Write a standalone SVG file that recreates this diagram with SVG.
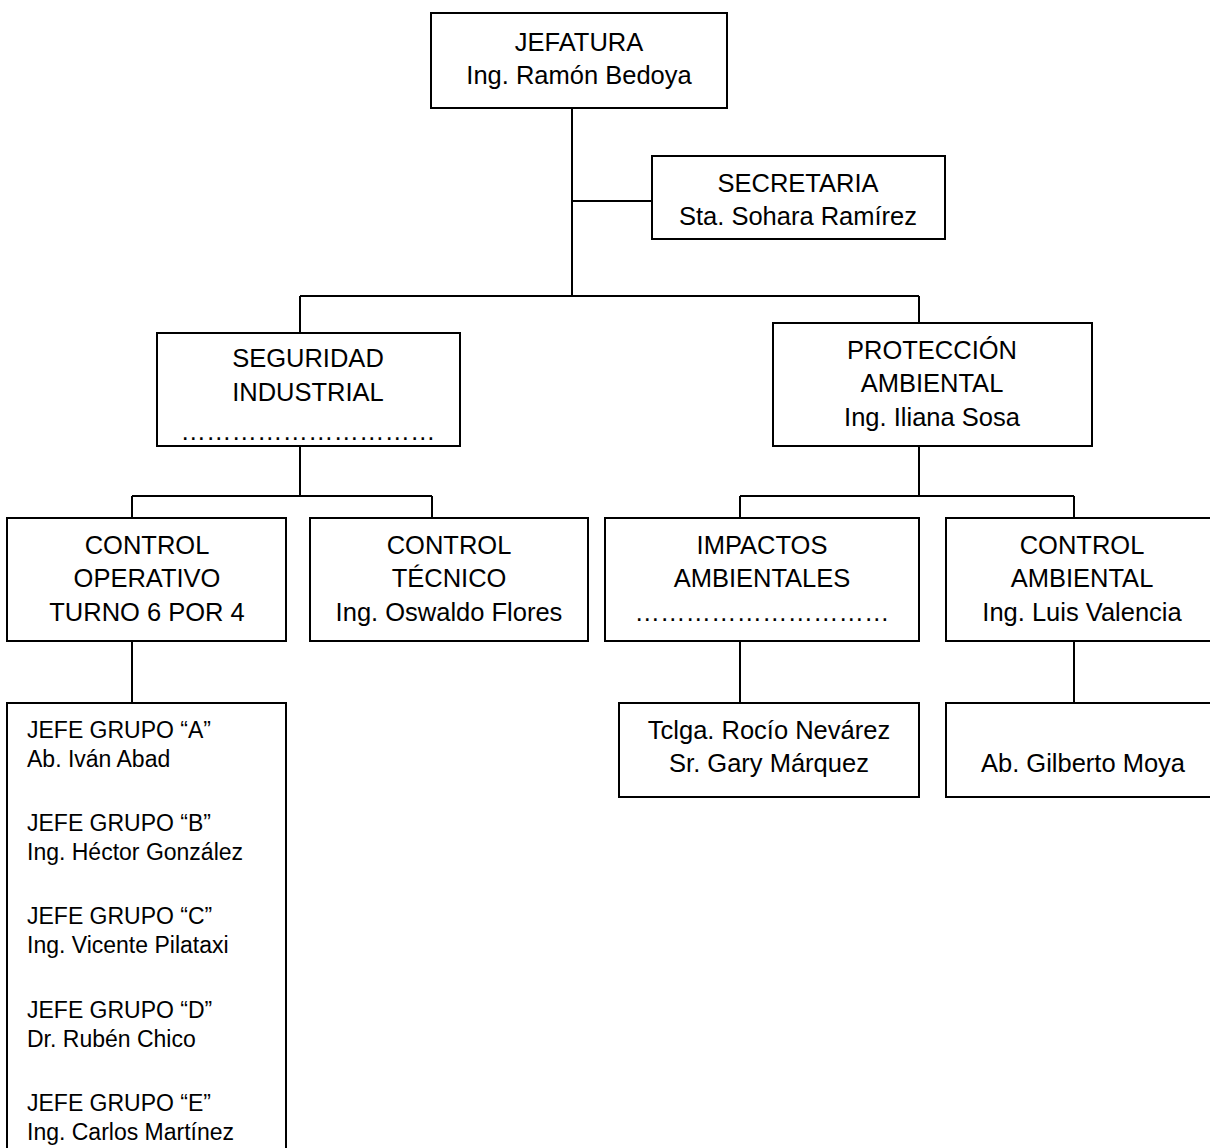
<svg xmlns="http://www.w3.org/2000/svg" width="1210" height="1148" viewBox="0 0 1210 1148">
<style>
.box{fill:#fff;stroke:#000;stroke-width:2}
.ln{stroke:#000;stroke-width:2;fill:none}
text{font-family:"Liberation Sans",Arial,sans-serif;font-size:25.5px;fill:#000}
.c{text-anchor:middle}
.s{font-size:23px}
</style>
<rect width="1210" height="1148" fill="#fff"/>
<g id="connectors">
<path class="ln" d="M572 108V296M572 201H652M300 296H919M300 296V333M919 296V323"/>
<path class="ln" d="M300 446V496M132 496H432M132 496V518M432 496V518"/>
<path class="ln" d="M919 446V496M740 496H1074M740 496V518M1074 496V518"/>
<path class="ln" d="M132 641V703M740 641V703M1074 641V703"/>
</g>
<g id="jefatura">
<rect class="box" x="431" y="13" width="296" height="95"/>
<text class="c" x="579" y="51">JEFATURA</text>
<text class="c" x="579" y="84">Ing. Ramón Bedoya</text>
</g>
<g id="secretaria">
<rect class="box" x="652" y="156" width="293" height="83"/>
<text class="c" x="798" y="192">SECRETARIA</text>
<text class="c" x="798" y="225">Sta. Sohara Ramírez</text>
</g>
<g id="seguridad">
<rect class="box" x="157" y="333" width="303" height="113"/>
<text class="c" x="308" y="367">SEGURIDAD</text>
<text class="c" x="308" y="401">INDUSTRIAL</text>
<text class="c" x="308" y="440">…………………………</text>
</g>
<g id="proteccion">
<rect class="box" x="773" y="323" width="319" height="123"/>
<text class="c" x="932" y="359">PROTECCIÓN</text>
<text class="c" x="932" y="392">AMBIENTAL</text>
<text class="c" x="932" y="426">Ing. Iliana Sosa</text>
</g>
<g id="control-operativo">
<rect class="box" x="7" y="518" width="279" height="123"/>
<text class="c" x="147" y="554">CONTROL</text>
<text class="c" x="147" y="587">OPERATIVO</text>
<text class="c" x="147" y="621">TURNO 6 POR 4</text>
</g>
<g id="control-tecnico">
<rect class="box" x="310" y="518" width="278" height="123"/>
<text class="c" x="449" y="554">CONTROL</text>
<text class="c" x="449" y="587">TÉCNICO</text>
<text class="c" x="449" y="621">Ing. Oswaldo Flores</text>
</g>
<g id="impactos">
<rect class="box" x="605" y="518" width="314" height="123"/>
<text class="c" x="762" y="554">IMPACTOS</text>
<text class="c" x="762" y="587">AMBIENTALES</text>
<text class="c" x="762" y="621">…………………………</text>
</g>
<g id="control-ambiental">
<rect class="box" x="946" y="518" width="270" height="123"/>
<text class="c" x="1082" y="554">CONTROL</text>
<text class="c" x="1082" y="587">AMBIENTAL</text>
<text class="c" x="1082" y="621">Ing. Luis Valencia</text>
</g>
<g id="jefes-grupo">
<rect class="box" x="7" y="703" width="279" height="460"/>
<text class="s" x="27" y="738">JEFE GRUPO “A”</text>
<text class="s" x="27" y="767">Ab. Iván Abad</text>
<text class="s" x="27" y="831">JEFE GRUPO “B”</text>
<text class="s" x="27" y="860">Ing. Héctor González</text>
<text class="s" x="27" y="924">JEFE GRUPO “C”</text>
<text class="s" x="27" y="953">Ing. Vicente Pilataxi</text>
<text class="s" x="27" y="1018">JEFE GRUPO “D”</text>
<text class="s" x="27" y="1047">Dr. Rubén Chico</text>
<text class="s" x="27" y="1111">JEFE GRUPO “E”</text>
<text class="s" x="27" y="1140">Ing. Carlos Martínez</text>
</g>
<g id="impactos-personal">
<rect class="box" x="619" y="703" width="300" height="94"/>
<text class="c" x="769" y="739">Tclga. Rocío Nevárez</text>
<text class="c" x="769" y="772">Sr. Gary Márquez</text>
</g>
<g id="ambiental-personal">
<rect class="box" x="946" y="703" width="270" height="94"/>
<text class="c" x="1083" y="772">Ab. Gilberto Moya</text>
</g>
</svg>
